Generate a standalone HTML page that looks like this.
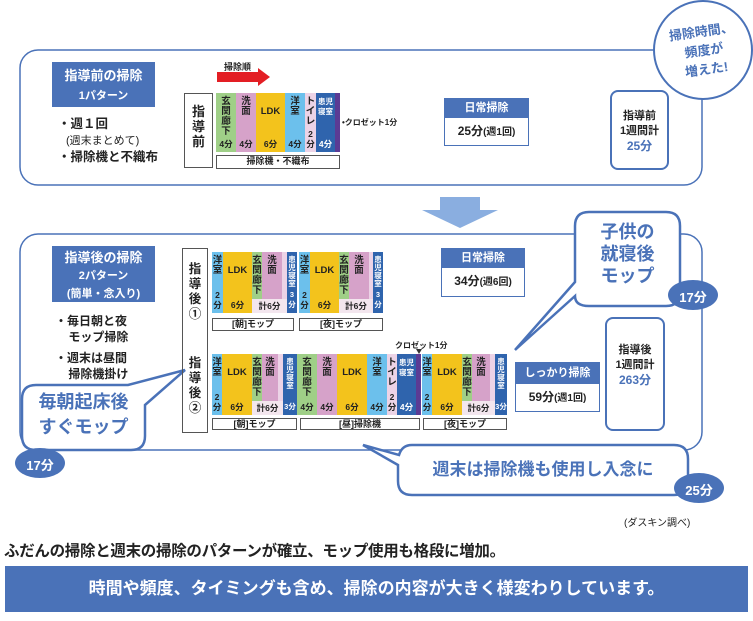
<!DOCTYPE html>
<html><head><meta charset="utf-8"><style>
*{margin:0;padding:0;box-sizing:border-box}
body{width:753px;height:621px;background:#fff;position:relative;overflow:hidden;font-family:"Liberation Sans","Noto Sans CJK JP",sans-serif;color:#222}
.a{position:absolute}
.seg{position:absolute;text-align:center;font-size:9.5px;font-weight:bold;line-height:10px;color:#222;overflow:hidden}
.seg .t{position:absolute;left:0;right:0;top:4px}
.seg .m{position:absolute;left:0;right:0;bottom:3px;font-size:8.5px}
.w{color:#fff}
.ub{position:absolute;border:1.3px solid #555;background:#fff;font-size:9px;text-align:center;line-height:11px;font-weight:bold}
.hb{position:absolute;border:1.5px solid #4a72b8;background:#fff;text-align:center;font-weight:bold}
.hb .h{background:#4a72b8;color:#fff;font-size:11px;line-height:19px}
.blue{color:#4a72b8}
</style></head><body>
<svg class="a" style="left:0;top:0" width="753" height="621">
<rect x="20" y="50" width="682" height="135" rx="18" fill="none" stroke="#4a72b8" stroke-width="1.5"/>
<rect x="20" y="234" width="682" height="216" rx="18" fill="none" stroke="#4a72b8" stroke-width="1.5"/>
<circle cx="703" cy="50" r="49" fill="#fff" stroke="#4a72b8" stroke-width="2"/>
<polygon points="440,197 480,197 480,210 498,210 460,228 422,210 440,210" fill="#8aaee0"/>
<polygon points="217,72 258,72 258,68 270,77 258,86 258,82 217,82" fill="#e31e24"/>
<path d="M589,212 H666 Q680,212 680,226 V292 Q680,306 666,306 H589 Q575,306 575,296 L515,350 L575,282 V226 Q575,212 589,212Z" fill="#fff" stroke="#4a72b8" stroke-width="2.5"/>
<path d="M36,385 H128 L185,370 L145,405 V436 Q145,450 131,450 H36 Q22,450 22,436 V399 Q22,385 36,385Z" fill="#fff" stroke="#4a72b8" stroke-width="2.5"/>
<path d="M412,445 H674 Q688,445 688,459 V481 Q688,495 674,495 H412 Q398,495 398,481 V465 L363,445 L399,455 Q402,445 412,445Z" fill="#fff" stroke="#4a72b8" stroke-width="2.5"/>
<ellipse cx="693" cy="295" rx="25" ry="15" fill="#4a72b8"/>
<ellipse cx="40" cy="463" rx="25" ry="15" fill="#4a72b8"/>
<ellipse cx="699" cy="488" rx="25" ry="15" fill="#4a72b8"/>
<polygon points="416,349 422,349 419,354" fill="#333"/>
</svg>

<div class="a blue" style="left:660px;top:22px;width:88px;text-align:center;font-size:13px;font-weight:bold;line-height:19px;transform:rotate(-8deg)">掃除時間、<br>頻度が<br>増えた!</div>

<div class="a" style="left:52px;top:62px;width:103px;height:45px;background:#4a72b8;color:#fff;text-align:center;font-weight:bold;font-size:13px;line-height:19px;padding-top:4px">指導前の掃除<br><span style="font-size:11px">1パターン</span></div>
<div class="a" style="left:58px;top:116px;font-size:12.5px;font-weight:bold;line-height:16px">・週１回<br><span style="font-size:11px;font-weight:normal;padding-left:8px">(週末まとめて)</span><br>・掃除機と不織布</div>

<div class="a" style="left:224px;top:60px;font-size:9px;font-weight:bold">掃除順</div>
<div class="a" style="left:184px;top:93px;width:29px;height:75px;border:1.3px solid #555;font-size:13px;font-weight:bold;text-align:center;line-height:15px;padding-top:10px">指<br>導<br>前</div>
<div class="seg" style="left:216px;top:93px;width:20px;height:59px;background:#9fcf87"><div class="t">玄<br>関<br>廊<br>下</div><div class="m">4分</div></div>
<div class="seg" style="left:236px;top:93px;width:20px;height:59px;background:#d6a2c9"><div class="t">洗<br>面</div><div class="m">4分</div></div>
<div class="seg" style="left:256px;top:93px;width:29px;height:59px;background:#f3c31c"><div class="t" style="top:14px">LDK</div><div class="m">6分</div></div>
<div class="seg" style="left:285px;top:93px;width:20px;height:59px;background:#6cc0ec"><div class="t">洋<br>室</div><div class="m">4分</div></div>
<div class="seg" style="left:305px;top:93px;width:11px;height:59px;background:#ecd3e6"><div class="t">ト<br>イ<br>レ</div><div class="m">2<br>分</div></div>
<div class="seg w" style="left:316px;top:93px;width:19px;height:59px;background:#2f64ad"><div class="t" style="font-size:7.5px">患児<br>寝室</div><div class="m">4分</div></div>
<div class="seg" style="left:335px;top:93px;width:5px;height:59px;background:#5b3b94"></div>
<div class="a" style="left:342px;top:117px;font-size:8px;font-weight:bold">•クロゼット1分</div>
<div class="ub" style="left:216px;top:155px;width:124px;height:14px">掃除機・不織布</div>

<div class="hb" style="left:444px;top:98px;width:85px;height:48px"><div class="h">日常掃除</div><div style="font-size:12px;line-height:26px">25分<span style="font-size:10px">(週1回)</span></div></div>
<div class="a" style="left:610px;top:90px;width:59px;height:80px;border:2px solid #4a72b8;border-radius:8px;text-align:center;font-weight:bold;font-size:11px;line-height:15px;padding-top:17px">指導前<br>1週間計<br><span class="blue" style="font-size:12px">25分</span></div>

<div class="a" style="left:52px;top:246px;width:103px;height:56px;background:#4a72b8;color:#fff;text-align:center;font-weight:bold;font-size:13px;line-height:17px;padding-top:3px">指導後の掃除<br><span style="font-size:11px;line-height:15px">2パターン<br>(簡単・念入り)</span></div>
<div class="a" style="left:55px;top:313px;font-size:12px;font-weight:bold;line-height:16px">・毎日朝と夜<br>&nbsp;&nbsp;&nbsp;&nbsp;モップ掃除</div>
<div class="a" style="left:55px;top:350px;font-size:12px;font-weight:bold;line-height:16px">・週末は昼間<br>&nbsp;&nbsp;&nbsp;&nbsp;掃除機掛け</div>

<div class="a" style="left:182px;top:248px;width:26px;height:185px;border:1.3px solid #555"></div>
<div class="a" style="left:183px;top:262px;width:24px;text-align:center;font-size:12.5px;font-weight:bold;line-height:15px">指<br>導<br>後<br>①</div>
<div class="a" style="left:183px;top:356px;width:24px;text-align:center;font-size:12.5px;font-weight:bold;line-height:15px">指<br>導<br>後<br>②</div>

<div class="seg" style="left:212px;top:252px;width:11px;height:61px;background:#6cc0ec"><div class="t">洋<br>室</div><div class="m">2<br>分</div></div>
<div class="seg" style="left:223px;top:252px;width:29px;height:61px;background:#f3c31c"><div class="t" style="top:14px">LDK</div><div class="m">6分</div></div>
<div class="seg" style="left:252px;top:252px;width:10px;height:61px;background:#9fcf87"><div class="t">玄<br>関<br>廊<br>下</div></div>
<div class="seg" style="left:262px;top:252px;width:20px;height:61px;background:#d6a2c9"><div class="t">洗<br>面</div></div>
<div class="seg" style="left:282px;top:252px;width:5px;height:61px;background:#ecd3e6"></div>
<div class="seg w" style="left:287px;top:252px;width:10px;height:61px;background:#2f64ad"><div class="t" style="font-size:7.5px;line-height:8px">患<br>児<br>寝<br>室</div><div class="m" style="font-size:7.5px">3分</div></div>
<div class="seg" style="left:252px;top:299px;width:35px;height:14px;background:#f3e6ee"><div class="m" style="bottom:2px">計6分</div></div>

<div class="seg" style="left:299px;top:252px;width:11px;height:61px;background:#6cc0ec"><div class="t">洋<br>室</div><div class="m">2<br>分</div></div>
<div class="seg" style="left:310px;top:252px;width:29px;height:61px;background:#f3c31c"><div class="t" style="top:14px">LDK</div><div class="m">6分</div></div>
<div class="seg" style="left:339px;top:252px;width:10px;height:61px;background:#9fcf87"><div class="t">玄<br>関<br>廊<br>下</div></div>
<div class="seg" style="left:349px;top:252px;width:20px;height:61px;background:#d6a2c9"><div class="t">洗<br>面</div></div>
<div class="seg" style="left:369px;top:252px;width:4px;height:61px;background:#ecd3e6"></div>
<div class="seg w" style="left:373px;top:252px;width:10px;height:61px;background:#2f64ad"><div class="t" style="font-size:7.5px;line-height:8px">患<br>児<br>寝<br>室</div><div class="m" style="font-size:7.5px">3分</div></div>
<div class="seg" style="left:339px;top:299px;width:34px;height:14px;background:#f3e6ee"><div class="m" style="bottom:2px">計6分</div></div>
<div class="ub" style="left:212px;top:318px;width:82px;height:13px">[朝]モップ</div>
<div class="ub" style="left:299px;top:318px;width:84px;height:13px">[夜]モップ</div>

<div class="seg" style="left:212px;top:354px;width:10px;height:61px;background:#6cc0ec"><div class="t">洋<br>室</div><div class="m">2<br>分</div></div>
<div class="seg" style="left:222px;top:354px;width:30px;height:61px;background:#f3c31c"><div class="t" style="top:14px">LDK</div><div class="m">6分</div></div>
<div class="seg" style="left:252px;top:354px;width:10px;height:61px;background:#9fcf87"><div class="t">玄<br>関<br>廊<br>下</div></div>
<div class="seg" style="left:262px;top:354px;width:16px;height:61px;background:#d6a2c9"><div class="t">洗<br>面</div></div>
<div class="seg" style="left:278px;top:354px;width:5px;height:61px;background:#ecd3e6"></div>
<div class="seg w" style="left:283px;top:354px;width:14px;height:61px;background:#2f64ad"><div class="t" style="font-size:7.5px;line-height:8px">患<br>児<br>寝<br>室</div><div class="m" style="font-size:7.5px">3分</div></div>
<div class="seg" style="left:252px;top:401px;width:31px;height:14px;background:#f3e6ee"><div class="m" style="bottom:2px">計6分</div></div>

<div class="seg" style="left:297px;top:354px;width:20px;height:61px;background:#9fcf87"><div class="t">玄<br>関<br>廊<br>下</div><div class="m">4分</div></div>
<div class="seg" style="left:317px;top:354px;width:20px;height:61px;background:#d6a2c9"><div class="t">洗<br>面</div><div class="m">4分</div></div>
<div class="seg" style="left:337px;top:354px;width:30px;height:61px;background:#f3c31c"><div class="t" style="top:14px">LDK</div><div class="m">6分</div></div>
<div class="seg" style="left:367px;top:354px;width:20px;height:61px;background:#6cc0ec"><div class="t">洋<br>室</div><div class="m">4分</div></div>
<div class="seg" style="left:387px;top:354px;width:10px;height:61px;background:#ecd3e6"><div class="t">ト<br>イ<br>レ</div><div class="m">2<br>分</div></div>
<div class="seg w" style="left:397px;top:354px;width:19px;height:61px;background:#2f64ad"><div class="t" style="font-size:7.5px">患児<br>寝室</div><div class="m">4分</div></div>
<div class="seg" style="left:416px;top:354px;width:5px;height:61px;background:#5b3b94"></div>
<div class="a" style="left:395px;top:340px;font-size:8px;font-weight:bold">クロゼット1分</div>

<div class="seg" style="left:422px;top:354px;width:10px;height:61px;background:#6cc0ec"><div class="t">洋<br>室</div><div class="m">2<br>分</div></div>
<div class="seg" style="left:432px;top:354px;width:30px;height:61px;background:#f3c31c"><div class="t" style="top:14px">LDK</div><div class="m">6分</div></div>
<div class="seg" style="left:462px;top:354px;width:10px;height:61px;background:#9fcf87"><div class="t">玄<br>関<br>廊<br>下</div></div>
<div class="seg" style="left:472px;top:354px;width:18px;height:61px;background:#d6a2c9"><div class="t">洗<br>面</div></div>
<div class="seg" style="left:490px;top:354px;width:5px;height:61px;background:#ecd3e6"></div>
<div class="seg w" style="left:495px;top:354px;width:12px;height:61px;background:#2f64ad"><div class="t" style="font-size:7.5px;line-height:8px">患<br>児<br>寝<br>室</div><div class="m" style="font-size:7.5px">3分</div></div>
<div class="seg" style="left:462px;top:401px;width:33px;height:14px;background:#f3e6ee"><div class="m" style="bottom:2px">計6分</div></div>

<div class="ub" style="left:212px;top:418px;width:85px;height:12px;line-height:10px">[朝]モップ</div>
<div class="ub" style="left:300px;top:418px;width:120px;height:12px;line-height:10px">[昼]掃除機</div>
<div class="ub" style="left:423px;top:418px;width:84px;height:12px;line-height:10px">[夜]モップ</div>

<div class="hb" style="left:441px;top:248px;width:84px;height:49px"><div class="h">日常掃除</div><div style="font-size:12px;line-height:27px">34分<span style="font-size:10px">(週6回)</span></div></div>
<div class="hb" style="left:515px;top:362px;width:85px;height:50px"><div class="h" style="line-height:21px">しっかり掃除</div><div style="font-size:12px;line-height:27px">59分<span style="font-size:10px">(週1回)</span></div></div>
<div class="a" style="left:605px;top:317px;width:60px;height:114px;border:2px solid #4a72b8;border-radius:8px;text-align:center;font-weight:bold;font-size:11px;line-height:15px;padding-top:24px">指導後<br>1週間計<br><span class="blue" style="font-size:12px">263分</span></div>

<div class="a blue" style="left:575px;top:221px;width:105px;text-align:center;font-size:18px;font-weight:bold;line-height:22px">子供の<br>就寝後<br>モップ</div>
<div class="a blue" style="left:22px;top:390px;width:123px;text-align:center;font-size:18px;font-weight:bold;line-height:25px">毎朝起床後<br>すぐモップ</div>
<div class="a blue" style="left:398px;top:457px;width:290px;text-align:center;font-size:17px;font-weight:bold;line-height:26px">週末は掃除機も使用し入念に</div>
<div class="a" style="left:668px;top:287px;width:50px;text-align:center;color:#fff;font-size:13px;font-weight:bold">17分</div>
<div class="a" style="left:15px;top:455px;width:50px;text-align:center;color:#fff;font-size:13px;font-weight:bold">17分</div>
<div class="a" style="left:674px;top:480px;width:50px;text-align:center;color:#fff;font-size:13px;font-weight:bold">25分</div>

<div class="a" style="left:624px;top:514px;font-size:10px">(ダスキン調べ)</div>
<div class="a" style="left:4px;top:539px;font-size:15.5px;font-weight:bold;color:#222;letter-spacing:-0.3px">ふだんの掃除と週末の掃除のパターンが確立、モップ使用も格段に増加。</div>
<div class="a" style="left:5px;top:566px;width:743px;height:46px;background:#4a72b8;color:#fff;font-size:17px;font-weight:bold;line-height:46px;text-align:center">時間や頻度、タイミングも含め、掃除の内容が大きく様変わりしています。</div>
</body></html>
